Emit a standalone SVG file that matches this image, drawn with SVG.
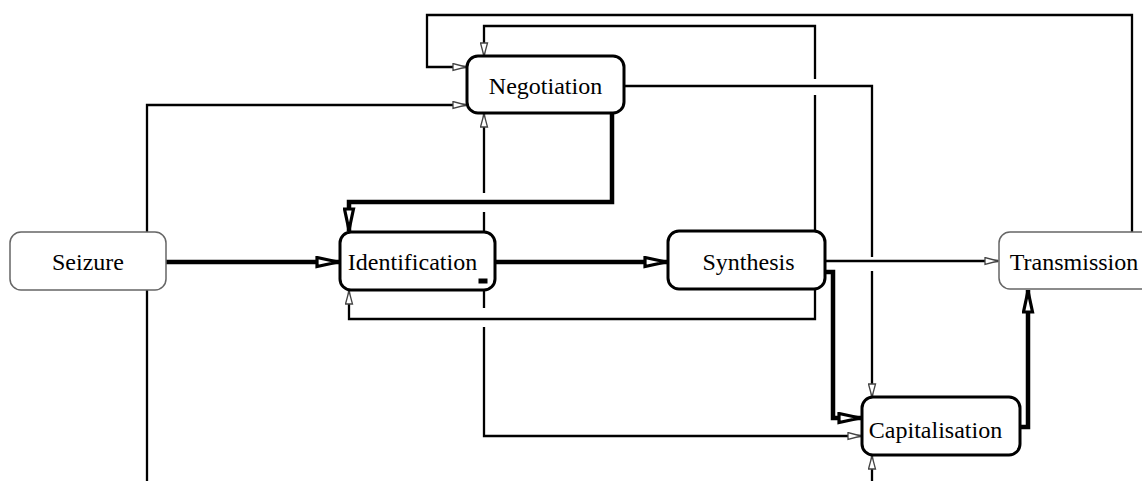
<svg xmlns="http://www.w3.org/2000/svg" width="1142" height="481" viewBox="0 0 1142 481">
<style>
.c{fill:none;stroke:#000;stroke-width:2.3}
.k{fill:none;stroke:#000;stroke-width:4.5}
.n rect{fill:#fff;stroke:#000;stroke-width:3}
.l rect{fill:#fff;stroke:#666;stroke-width:1.5}
text{font-family:"Liberation Serif","Times New Roman",serif;font-size:24px;fill:#000;text-anchor:middle}
</style>
<defs>
<marker id="a" markerUnits="userSpaceOnUse" markerWidth="15" markerHeight="9" viewBox="0 0 15 9" refX="14" refY="4.5" orient="auto">
<path d="M1,1 L14,4.5 L1,8 z" fill="#fff" stroke="#444" stroke-width="1.3"/>
</marker>
<marker id="b" markerUnits="userSpaceOnUse" markerWidth="25" markerHeight="13" viewBox="0 0 25 13" refX="24" refY="6.5" orient="auto">
<path d="M2,2 L23,6.5 L2,11 z" fill="#fff" stroke="#000" stroke-width="3.2"/>
</marker>
</defs>
<g id="connectors">
<path class="c" d="M1132,232 V15 H427 V67 H466" marker-end="url(#a)"/>
<path class="c" d="M815,231 V95 M815,79 V26 H484 V56" marker-end="url(#a)"/>
<path class="c" d="M147,481 V105 H466" marker-end="url(#a)"/>
<path class="k" d="M612,113 V202 H349 V231" marker-end="url(#b)"/>
<path class="c" d="M484,232 V212 M484,193 V114" marker-end="url(#a)"/>
<path class="k" d="M166,262 H339" marker-end="url(#b)"/>
<path class="k" d="M495,262 H667" marker-end="url(#b)"/>
<path class="c" d="M815,289 V319 H349 V291" marker-end="url(#a)"/>
<path class="c" d="M484,290 V308 M484,327 V436 H861" marker-end="url(#a)"/>
<path class="c" d="M624,86 H872 V257 M872,271 V397" marker-end="url(#a)"/>
<path class="c" d="M825,261 H998" marker-end="url(#a)"/>
<path class="k" d="M825,272 H833 V418 H861" marker-end="url(#b)"/>
<path class="k" d="M1020,427 H1028 V290" marker-end="url(#b)"/>
<path class="c" d="M872,481 V456" marker-end="url(#a)"/>
</g>
<g id="seizure" class="l">
<rect x="10" y="232" width="156" height="58" rx="11"/>
<text x="88" y="270">Seizure</text>
</g>
<g id="negotiation" class="n">
<rect x="467" y="56" width="157" height="57" rx="11"/>
<text x="545.5" y="94">Negotiation</text>
</g>
<g id="identification" class="n">
<rect x="340" y="232" width="155" height="58" rx="11"/>
<text x="412.5" y="270">Identification</text>
<rect x="480" y="280" width="6" height="2" fill="#000" stroke="none"/>
</g>
<g id="synthesis" class="n">
<rect x="668" y="231" width="157" height="58" rx="11"/>
<text x="748.5" y="270">Synthesis</text>
</g>
<g id="transmission" class="l">
<rect x="999" y="232" width="157" height="57" rx="11"/>
<text x="1074" y="270">Transmission</text>
</g>
<g id="capitalisation" class="n">
<rect x="862" y="397" width="158" height="58" rx="11"/>
<text x="935.5" y="438">Capitalisation</text>
</g>
</svg>
